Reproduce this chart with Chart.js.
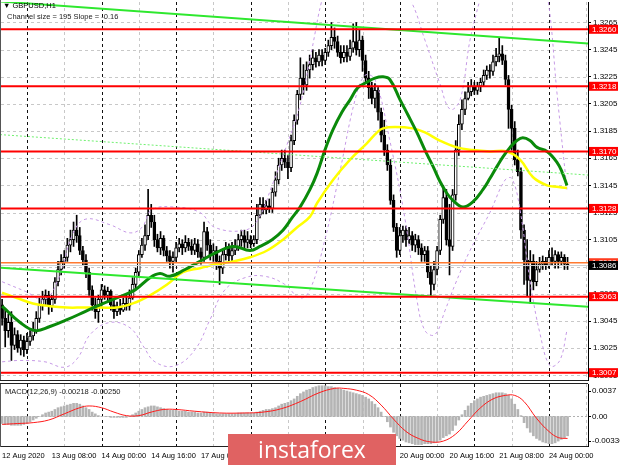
<!DOCTYPE html>
<html><head><meta charset="utf-8">
<script src="https://cdn.jsdelivr.net/npm/chart.js@4.4.1/dist/chart.umd.min.js"></script>
<style>
html,body{margin:0;padding:0;background:#fff;width:620px;height:465px;overflow:hidden}
#wrap{position:relative;width:620px;height:465px}
canvas{position:absolute;left:0}
#main{top:0}
#macd{top:383px}
.t{position:absolute;white-space:nowrap;font-family:'Liberation Sans',Arial,sans-serif;font-size:7.5px;line-height:8px;color:#000}
#logo{position:absolute;left:228px;top:434px;width:168px;height:31px;background:#e06262;color:#fff;font-family:'Open Sans','Liberation Sans',sans-serif;font-size:23px;line-height:30px;text-align:center}
</style></head>
<body><div id="wrap">
<canvas id="main" width="620" height="383"></canvas>
<canvas id="macd" width="620" height="82"></canvas>
<div class="t" style="left:3px;top:2px">▼ GBPUSD,H1</div>
<div class="t" style="left:7px;top:13px;color:#222">Channel size = 195 Slope = -0.16</div>
<div class="t" style="left:5px;top:388px;color:#222">MACD(12,26,9) -0.00218 -0.00250</div>
<div id="logo">instaforex</div>
</div>
<script>
// ---------- data (H1 bars, index 0 = 12 Aug 16:00) ----------
const opens=[1.3057,1.3047,1.3038,1.3044,1.3027,1.3035,1.3025,1.3031,1.3024,1.3030,
1.3034,1.3038,1.3047,1.3057,1.3061,1.3064,1.3056,1.3061,1.3074,1.3083,
1.3089,1.3092,1.3101,1.3105,1.3112,1.3108,1.3097,1.3090,1.3081,1.3068,
1.3057,1.3052,1.3061,1.3068,1.3064,1.3067,1.3057,1.3052,1.3055,1.3053,
1.3058,1.3056,1.3062,1.3072,1.3081,1.3094,1.3101,1.3108,1.3123,1.3118,
1.3105,1.3099,1.3106,1.3097,1.3093,1.3089,1.3092,1.3099,1.3102,1.3099,
1.3103,1.3100,1.3097,1.3102,1.3096,1.3092,1.3111,1.3101,1.3094,1.3097,
1.3089,1.3084,1.3094,1.3099,1.3093,1.3097,1.3100,1.3105,1.3108,1.3103,
1.3105,1.3102,1.3105,1.3123,1.3131,1.3127,1.3130,1.3128,1.3140,1.3149,
1.3160,1.3165,1.3162,1.3158,1.3178,1.3193,1.3212,1.3224,1.3219,1.3230,
1.3234,1.3239,1.3236,1.3241,1.3237,1.3243,1.3248,1.3254,1.3251,1.3243,
1.3239,1.3243,1.3240,1.3246,1.3251,1.3245,1.3252,1.3237,1.3224,1.3217,
1.3209,1.3215,1.3199,1.3182,1.3171,1.3160,1.3134,1.3114,1.3097,1.3108,
1.3112,1.3105,1.3108,1.3101,1.3105,1.3099,1.3094,1.3097,1.3081,1.3072,
1.3083,1.3097,1.3120,1.3136,1.3105,1.3100,1.3138,1.3171,1.3190,1.3201,
1.3209,1.3214,1.3218,1.3215,1.3218,1.3221,1.3226,1.3230,1.3229,1.3236,
1.3240,1.3242,1.3237,1.3223,1.3201,1.3187,1.3164,1.3155,1.3112,1.3090,
1.3075,1.3089,1.3074,1.3083,1.3087,1.3089,1.3086,1.3092,1.3089,1.3094,
1.3089,1.3092,1.3087];
const highs=[1.3061,1.3053,1.3050,1.3052,1.3040,1.3038,1.3035,1.3034,1.3036,1.3038,
1.3044,1.3052,1.3062,1.3067,1.3068,1.3067,1.3064,1.3077,1.3089,1.3094,
1.3097,1.3106,1.3112,1.3118,1.3123,1.3114,1.3100,1.3094,1.3084,1.3071,
1.3062,1.3064,1.3072,1.3071,1.3070,1.3068,1.3061,1.3059,1.3061,1.3062,
1.3064,1.3068,1.3077,1.3084,1.3097,1.3106,1.3116,1.3142,1.3131,1.3123,
1.3109,1.3111,1.3108,1.3100,1.3097,1.3096,1.3103,1.3106,1.3105,1.3108,
1.3106,1.3105,1.3106,1.3105,1.3099,1.3118,1.3114,1.3105,1.3102,1.3100,
1.3093,1.3097,1.3103,1.3102,1.3103,1.3105,1.3109,1.3112,1.3112,1.3111,
1.3108,1.3108,1.3131,1.3136,1.3136,1.3134,1.3135,1.3143,1.3155,1.3165,
1.3171,1.3171,1.3167,1.3182,1.3197,1.3215,1.3239,1.3234,1.3236,1.3241,
1.3245,1.3243,1.3245,1.3245,1.3246,1.3252,1.3265,1.3261,1.3255,1.3248,
1.3248,1.3248,1.3252,1.3264,1.3265,1.3260,1.3255,1.3241,1.3229,1.3221,
1.3220,1.3218,1.3202,1.3193,1.3175,1.3164,1.3138,1.3117,1.3114,1.3115,
1.3115,1.3114,1.3111,1.3109,1.3108,1.3102,1.3100,1.3100,1.3086,1.3089,
1.3100,1.3123,1.3145,1.3142,1.3131,1.3142,1.3178,1.3197,1.3208,1.3214,
1.3221,1.3223,1.3221,1.3221,1.3224,1.3230,1.3233,1.3234,1.3241,1.3246,
1.3254,1.3248,1.3241,1.3226,1.3204,1.3192,1.3171,1.3158,1.3116,1.3105,
1.3097,1.3094,1.3089,1.3092,1.3093,1.3092,1.3097,1.3099,1.3097,1.3096,
1.3096,1.3094,1.3092];
const lows=[1.3042,1.3026,1.3033,1.3016,1.3024,1.3022,1.3020,1.3019,1.3021,1.3027,
1.3031,1.3036,1.3044,1.3053,1.3057,1.3050,1.3052,1.3058,1.3071,1.3079,
1.3084,1.3089,1.3096,1.3100,1.3103,1.3094,1.3086,1.3077,1.3064,1.3053,
1.3047,1.3044,1.3056,1.3061,1.3059,1.3053,1.3047,1.3049,1.3050,1.3052,
1.3053,1.3053,1.3061,1.3068,1.3078,1.3092,1.3097,1.3105,1.3114,1.3100,
1.3096,1.3094,1.3093,1.3089,1.3084,1.3081,1.3089,1.3096,1.3094,1.3096,
1.3097,1.3094,1.3094,1.3092,1.3087,1.3089,1.3097,1.3090,1.3089,1.3083,
1.3072,1.3080,1.3090,1.3089,1.3089,1.3094,1.3097,1.3100,1.3099,1.3099,
1.3099,1.3100,1.3102,1.3121,1.3124,1.3124,1.3125,1.3125,1.3137,1.3146,
1.3156,1.3158,1.3150,1.3155,1.3175,1.3190,1.3208,1.3212,1.3215,1.3224,
1.3230,1.3232,1.3233,1.3233,1.3234,1.3240,1.3245,1.3246,1.3240,1.3235,
1.3236,1.3236,1.3237,1.3243,1.3241,1.3240,1.3229,1.3221,1.3209,1.3205,
1.3202,1.3193,1.3177,1.3167,1.3156,1.3131,1.3111,1.3092,1.3094,1.3103,
1.3100,1.3102,1.3097,1.3096,1.3094,1.3089,1.3089,1.3077,1.3064,1.3068,
1.3079,1.3094,1.3117,1.3101,1.3079,1.3097,1.3134,1.3167,1.3186,1.3197,
1.3208,1.3211,1.3212,1.3212,1.3214,1.3218,1.3223,1.3224,1.3226,1.3233,
1.3236,1.3234,1.3219,1.3187,1.3171,1.3160,1.3152,1.3106,1.3072,1.3063,
1.3058,1.3068,1.3071,1.3081,1.3083,1.3083,1.3084,1.3086,1.3084,1.3084,
1.3086,1.3083,1.3083];
const closes=[1.3047,1.3038,1.3044,1.3027,1.3035,1.3025,1.3031,1.3024,1.3030,1.3034,
1.3038,1.3047,1.3057,1.3061,1.3064,1.3056,1.3061,1.3074,1.3083,1.3089,
1.3092,1.3101,1.3105,1.3112,1.3108,1.3097,1.3090,1.3081,1.3068,1.3057,
1.3052,1.3061,1.3068,1.3064,1.3067,1.3057,1.3052,1.3055,1.3053,1.3058,
1.3056,1.3062,1.3072,1.3081,1.3094,1.3101,1.3108,1.3123,1.3118,1.3105,
1.3099,1.3106,1.3097,1.3093,1.3089,1.3092,1.3099,1.3102,1.3099,1.3103,
1.3100,1.3097,1.3102,1.3096,1.3092,1.3111,1.3101,1.3094,1.3097,1.3089,
1.3084,1.3094,1.3099,1.3093,1.3097,1.3100,1.3105,1.3108,1.3103,1.3105,
1.3102,1.3105,1.3123,1.3131,1.3127,1.3130,1.3128,1.3140,1.3149,1.3160,
1.3165,1.3162,1.3158,1.3178,1.3193,1.3212,1.3224,1.3219,1.3230,1.3234,
1.3239,1.3236,1.3241,1.3237,1.3243,1.3248,1.3254,1.3251,1.3243,1.3239,
1.3243,1.3240,1.3246,1.3251,1.3245,1.3252,1.3237,1.3224,1.3217,1.3209,
1.3215,1.3199,1.3182,1.3171,1.3160,1.3134,1.3114,1.3097,1.3108,1.3112,
1.3105,1.3108,1.3101,1.3105,1.3099,1.3094,1.3097,1.3081,1.3072,1.3083,
1.3097,1.3120,1.3136,1.3105,1.3100,1.3138,1.3171,1.3190,1.3201,1.3209,
1.3214,1.3218,1.3215,1.3218,1.3221,1.3226,1.3230,1.3229,1.3236,1.3240,
1.3242,1.3237,1.3223,1.3201,1.3187,1.3164,1.3155,1.3112,1.3090,1.3075,
1.3089,1.3074,1.3083,1.3087,1.3089,1.3086,1.3092,1.3089,1.3094,1.3089,
1.3092,1.3087,1.3086];

// moving averages (read at sample bars)
const greenMaIdx=[0,5.8,10.6,15.4,20.9,26.7,31.5,37.9,42.8,47.6,50.8,54.0,58.9,63.7,68.5,74.3,79.8,83.0,86.9,90.4,93.3,95.9,99.1,101.4,103.9,106.5,109.4,112.0,114.5,117.4,120.0,122.6,124.8,128.1,130.6,133.5,136.1,138.7,140.9,143.2,145.1,148.3,151.6,154.8,157.0,159.3,161.2,163.5,165.7,167.6,169.9,172.2,175.4,178.6,180.2,181.8];
const greenMaVal=[1.3056,1.3044,1.3038,1.3041,1.3046,1.3052,1.3057,1.3063,1.3068,1.3077,1.3080,1.3078,1.3083,1.3089,1.3095,1.3100,1.3097,1.3100,1.3105,1.3112,1.3121,1.3129,1.3142,1.3154,1.3171,1.3186,1.3199,1.3208,1.3217,1.3221,1.3224,1.3225,1.3223,1.3208,1.3197,1.3184,1.3171,1.3159,1.3148,1.3139,1.3134,1.3129,1.3133,1.3142,1.3150,1.3159,1.3166,1.3173,1.3178,1.3180,1.3178,1.3173,1.3170,1.3162,1.3155,1.3145];
const yellowMaIdx=[0,4.8,9.9,15.4,20.9,26.0,31.5,37.0,42.1,47.6,53.1,58.2,63.7,69.2,74.3,79.8,85.3,90.4,94.9,99.1,101.4,106.5,112.0,117.4,120.7,122.6,126.5,132.2,136.1,140.9,146.4,151.6,157.0,162.5,166.7,170.9,175.4,178.6,181.8];
const yellowMaVal=[1.3066,1.3062,1.3058,1.3056,1.3055,1.3055,1.3055,1.3055,1.3058,1.3064,1.3072,1.3081,1.3084,1.3087,1.3089,1.3092,1.3097,1.3105,1.3114,1.3122,1.3132,1.3149,1.3164,1.3176,1.3184,1.3187,1.3188,1.3187,1.3184,1.3178,1.3173,1.3171,1.3170,1.3170,1.3164,1.3151,1.3145,1.3144,1.3143];
// bands (purple dashed)
const bandUpIdx=[0,7.4,13.8,18.6,22.5,26.7,34.7,41.2,45.0,48.2,55.6,63.7,68.5,78.2,82.4,86.9,91.7,95.9,99.7,103.0,107.1,112.0,116.8,121.6,126.5,131.3,136.1,140.9,144.2,147.4,150.6,153.8,157.0,163.5,169.9,173.2,175.7,178.6,181.8];
const bandUpVal=[1.3074,1.3067,1.3061,1.3079,1.3108,1.3120,1.3116,1.3110,1.3114,1.3127,1.3129,1.3125,1.3114,1.3112,1.3120,1.3145,1.3175,1.3204,1.3245,1.3282,1.3311,1.3318,1.3311,1.3304,1.3293,1.3282,1.3252,1.3220,1.3201,1.3208,1.3252,1.3282,1.3311,1.3326,1.3318,1.3300,1.3282,1.3213,1.3142];
const bandLowIdx=[0,5.8,13.8,20.2,24.4,28.3,34.7,41.2,45.3,49.2,55.6,62.1,66.9,71.7,78.2,84.6,91.0,95.9,99.1,103.9,108.8,113.6,116.8,120.0,124.8,129.7,133.5,136.1,139.3,142.6,145.8,150.6,157.0,161.9,164.1,166.7,169.9,173.2,176.4,179.5,181.8];
const bandLowVal=[1.3015,1.3016,1.3015,1.3011,1.3018,1.3035,1.3044,1.3040,1.3027,1.3015,1.3012,1.3024,1.3046,1.3068,1.3077,1.3078,1.3072,1.3062,1.3068,1.3105,1.3156,1.3208,1.3226,1.3223,1.3178,1.3120,1.3061,1.3038,1.3035,1.3053,1.3072,1.3097,1.3125,1.3149,1.3150,1.3127,1.3075,1.3035,1.3012,1.3016,1.3038];
// regression channel end points
const channelIdx=[-0.68,188.6];
const channelTop=[1.32805,1.32496];
const channelMid=[1.31824,1.31526];
const channelBot=[1.30844,1.30556];
// horizontal levels
const levels=[1.3260,1.3218,1.3170,1.3128,1.3063,1.3007];
const orangeLevel=1.3088;
const currentPrice=1.3086;
const priceTicks=[1.3005,1.3025,1.3045,1.3065,1.3085,1.3105,1.3125,1.3145,1.3165,1.3185,1.3205,1.3225,1.3245,1.3265];
// time axis
const timeTickIdx=[0,16,32,48,64,80,96,112,128,144,160,176];
const timeTickLabels=['12 Aug 2020','13 Aug 08:00','14 Aug 00:00','14 Aug 16:00','17 Aug 08:00','18 Aug 00:00','18 Aug 16:00','19 Aug 08:00','20 Aug 00:00','20 Aug 16:00','21 Aug 08:00','24 Aug 00:00'];
const daySeparators=[8,32,56,80,104,128,152,176];
const halfDayLines=[20,44,68,92,116,140,164,188];
// MACD
const macdHist=[-0.0008,-0.0009,-0.0009,-0.0010,-0.0010,-0.0010,-0.0010,-0.0009,-0.0008,
-0.0006,-0.0004,-0.0002,0.0000,
0.0002,0.0004,0.0005,0.0006,0.0008,0.0010,0.0011,0.0012,0.0013,0.0014,0.0015,0.0015,
0.0014,0.0012,0.0010,0.0008,0.0005,0.0003,0.0001,0.0000,0.0000,
0.0000,-0.0001,-0.0001,-0.0001,-0.0001,-0.0001,-0.0001,0.0000,0.0002,0.0004,
0.0006,0.0008,0.0010,0.0011,0.0012,0.0012,0.0011,0.0010,0.0009,0.0008,0.0007,0.0007,
0.0007,0.0006,0.0006,0.0006,0.0005,0.0005,0.0005,0.0004,0.0004,0.0005,0.0005,0.0004,0.0004,0.0003,0.0003,0.0003,0.0003,0.0003,0.0003,0.0003,0.0004,0.0004,0.0004,0.0004,0.0004,0.0004,
0.0005,0.0006,0.0007,0.0008,0.0008,0.0009,0.0010,0.0012,0.0014,0.0015,0.0016,0.0018,0.0020,0.0023,0.0026,0.0028,0.0030,0.0031,0.0033,0.0034,0.0035,0.0035,0.0035,0.0034,0.0034,
0.0033,0.0032,0.0031,0.0030,0.0029,0.0028,0.0027,0.0026,0.0025,0.0024,0.0022,0.0020,0.0017,0.0014,0.0010,0.0005,
0.0000,-0.0006,-0.0012,-0.0018,-0.0022,-0.0025,-0.0027,-0.0029,-0.0030,-0.0031,-0.0032,-0.0032,-0.0032,-0.0031,-0.0031,-0.0031,-0.0030,
-0.0029,-0.0027,-0.0024,-0.0022,-0.0020,-0.0016,-0.0010,-0.0004,
0.0002,0.0007,0.0012,0.0015,0.0018,0.0020,0.0022,0.0023,0.0024,0.0025,0.0026,0.0027,0.0027,0.0027,0.0026,0.0024,0.0020,0.0014,0.0008,
0.0001,-0.0007,-0.0013,-0.0018,-0.0022,-0.0025,-0.0027,-0.0029,-0.0030,-0.0031,-0.0031,-0.0030,-0.0028,-0.0026,-0.0024,-0.0022];
const signalIdx=[0,5,10,15,20,25,28,32,36,40,44,48,52,56,62,70,78,84,90,96,102,107,110,114,118,122,126,130,134,138,142,146,150,154,158,162,165,168,172,176,179,182];
const signalVal=[-0.0009,-0.0008,-0.0007,-0.0004,0.0003,0.0010,0.0012,0.0010,0.0005,0.0001,0.0001,0.0005,0.0008,0.0008,0.0006,0.0004,0.0004,0.0005,0.0009,0.0017,0.0027,0.0032,0.0032,0.0030,0.0025,0.0013,-0.0003,-0.0017,-0.0025,-0.0029,-0.0028,-0.0020,-0.0005,0.0010,0.0020,0.0024,0.0024,0.0017,-0.0002,-0.0017,-0.0024,-0.0025];
const macdAxisVals=[0.0037,0,-0.00336];
const macdAxisText=['0.0037','0.00','-0.00336'];

// ---------- scale ranges ----------
const X_MIN=-0.354, X_MAX=188.58;
const P_MIN=1.30016, P_MAX=1.32801;
const M_MIN=-0.00336, M_MAX=0.0037;
const FONT="'Liberation Sans', Arial, sans-serif";

const pts=(xs,ys)=>xs.map((x,i)=>({x:x,y:ys[i]}));

function clipArea(ctx,a){ctx.beginPath();ctx.rect(a.left,a.top,a.right-a.left,a.bottom-a.top);ctx.clip();}
function hline(ctx,x1,x2,y){ctx.beginPath();ctx.moveTo(x1,y);ctx.lineTo(x2,y);ctx.stroke();}
function vline(ctx,x,y1,y2){ctx.beginPath();ctx.moveTo(x,y1);ctx.lineTo(x,y2);ctx.stroke();}
function drawVGrid(ctx,a,xs){
  ctx.lineWidth=1;ctx.setLineDash([3,3]);
  halfDayLines.forEach(i=>{const px=Math.round(xs.getPixelForValue(i))+0.5;ctx.strokeStyle='#c8c8c8';vline(ctx,px,a.top,a.bottom);});
  daySeparators.forEach(i=>{const px=Math.round(xs.getPixelForValue(i))+0.5;ctx.strokeStyle='#111';vline(ctx,px,a.top,a.bottom);});
}
const noPadV=s=>{s.paddingTop=0;s.paddingBottom=0;};
const noPadH=s=>{s.paddingLeft=0;s.paddingRight=0;};

const mainDeco={
  id:'mainDeco',
  beforeDatasetsDraw(chart){
    const {ctx,chartArea:a,scales:{x,y}}=chart;
    ctx.save();clipArea(ctx,a);
    ctx.lineWidth=1;ctx.setLineDash([3,3]);ctx.strokeStyle='#c8c8c8';
    priceTicks.forEach(v=>{const py=Math.round(y.getPixelForValue(v))+0.5;hline(ctx,a.left,a.right,py);});
    drawVGrid(ctx,a,x);
    ctx.restore();
  },
  afterDatasetsDraw(chart){
    const {ctx,chartArea:a,scales:{y}}=chart;
    ctx.save();clipArea(ctx,a);ctx.setLineDash([]);
    ctx.strokeStyle='#d0d0d0';ctx.lineWidth=1;hline(ctx,a.left,a.right,Math.round(y.getPixelForValue(currentPrice))+0.5);
    ctx.strokeStyle='#ff7a30';ctx.lineWidth=1.5;hline(ctx,a.left,a.right,y.getPixelForValue(orangeLevel));
    ctx.strokeStyle='#ff0000';ctx.lineWidth=2;
    levels.forEach(v=>hline(ctx,a.left,a.right,y.getPixelForValue(v)));
    ctx.restore();
  },
  afterDraw(chart){
    const {ctx,chartArea:a,scales:{y}}=chart;
    ctx.save();
    ctx.font='8px '+FONT;ctx.textBaseline='middle';ctx.textAlign='left';
    const lab=(v,bg,txt)=>{const py=y.getPixelForValue(v);ctx.fillStyle=bg;ctx.fillRect(a.right+1,py-4.5,29,9);ctx.fillStyle='#fff';ctx.fillText(txt,a.right+4,py+0.5);};
    levels.forEach(v=>lab(v,'#ff0000',v.toFixed(4)));
    lab(orangeLevel,'#ff3b1f',orangeLevel.toFixed(4));
    lab(currentPrice,'#000',currentPrice.toFixed(4));
    ctx.strokeStyle='#555';ctx.lineWidth=1;ctx.setLineDash([]);
    vline(ctx,0.5,0,a.bottom+1);
    ctx.strokeStyle='#222';hline(ctx,0,a.right,a.bottom+0.5);
    ctx.restore();
  }
};

const macdDeco={
  id:'macdDeco',
  beforeDatasetsDraw(chart){
    const {ctx,chartArea:a,scales:{x,y}}=chart;
    ctx.save();clipArea(ctx,a);
    drawVGrid(ctx,a,x);
    ctx.strokeStyle='#b0b0b0';ctx.setLineDash([2,2]);
    hline(ctx,a.left,a.right,Math.round(y.getPixelForValue(0))+0.5);
    ctx.restore();
  },
  afterDraw(chart){
    const {ctx,chartArea:a,scales:{y}}=chart;
    ctx.save();
    ctx.font='8px '+FONT;ctx.textBaseline='middle';ctx.textAlign='left';ctx.fillStyle='#000';
    macdAxisVals.forEach((v,i)=>{
      let py=y.getPixelForValue(v);
      if(i===0)py=a.top+7;
      if(i===macdAxisVals.length-1)py=a.bottom-5;
      ctx.fillText(macdAxisText[i],a.right+4,py);
      ctx.strokeStyle='#000';ctx.lineWidth=1;hline(ctx,a.right,a.right+3,Math.round(py)+0.5);
    });
    ctx.strokeStyle='#222';ctx.lineWidth=1;
    hline(ctx,0,a.right,a.top-0.5);
    hline(ctx,0,a.right,a.bottom+0.5);
    ctx.strokeStyle='#555';vline(ctx,0.5,a.top,a.bottom+1);
    ctx.restore();
  }
};

const common={responsive:false,animation:false,devicePixelRatio:1,events:[],
  plugins:{legend:{display:false},tooltip:{enabled:false}}};

const lineDs=(data,color,width,extra)=>Object.assign({type:'line',data:data,borderColor:color,borderWidth:width,pointRadius:0,fill:false,tension:0.4},extra||{});

new Chart(document.getElementById('main'),{
  type:'bar',
  data:{datasets:[
    lineDs(pts(channelIdx,channelTop),'#2ee82e',2,{tension:0,order:1}),
    lineDs(pts(channelIdx,channelBot),'#2ee82e',2,{tension:0,order:1}),
    lineDs(pts(channelIdx,channelMid),'#6ef06e',1,{tension:0,borderDash:[2,2],order:1}),
    lineDs(pts(greenMaIdx,greenMaVal),'#0a8a0a',3,{order:2}),
    lineDs(pts(yellowMaIdx,yellowMaVal),'#ffff00',2.5,{order:3}),
    lineDs(pts(bandUpIdx,bandUpVal),'#c69ae6',1,{borderDash:[3,3],order:4}),
    lineDs(pts(bandLowIdx,bandLowVal),'#c69ae6',1,{borderDash:[3,3],order:4}),
    {type:'bar',data:opens.map((o,i)=>({x:i,y:[o,closes[i]]})),barThickness:3,minBarLength:1,grouped:false,
      backgroundColor:c=>closes[c.dataIndex]>=opens[c.dataIndex]?'#ffffff':'#000000',
      borderColor:'#000',borderWidth:1,borderSkipped:false,order:8},
    {type:'bar',data:highs.map((h,i)=>({x:i,y:[lows[i],h]})),barThickness:1,grouped:false,backgroundColor:'#000',order:9}
  ]},
  options:Object.assign({},common,{
    layout:{padding:{left:1,top:2,right:0,bottom:3}},
    scales:{
      x:{type:'linear',min:X_MIN,max:X_MAX,offset:false,display:false,afterFit:noPadH},
      y:{type:'linear',position:'right',min:P_MIN,max:P_MAX,
        afterBuildTicks:s=>{s.ticks=priceTicks.map(v=>({value:v}));},
        afterFit:s=>{s.width=32;noPadV(s);},
        ticks:{autoSkip:false,padding:2,color:'#000',font:{family:FONT,size:8},callback:v=>Number(v).toFixed(4)},
        grid:{drawOnChartArea:false,drawTicks:true,tickLength:3,color:'#000'},
        border:{display:true,color:'#000'}}
    }
  }),
  plugins:[mainDeco]
});

new Chart(document.getElementById('macd'),{
  type:'bar',
  data:{datasets:[
    lineDs(pts(signalIdx,signalVal),'#ff1a1a',1,{order:1}),
    {type:'bar',data:macdHist.map((v,i)=>({x:i,y:v})),barThickness:2,grouped:false,backgroundColor:'#b4b4b4',order:2}
  ]},
  options:Object.assign({},common,{
    layout:{padding:{left:1,top:1,right:0,bottom:0}},
    scales:{
      x:{type:'linear',min:X_MIN,max:X_MAX,offset:false,
        afterBuildTicks:s=>{s.ticks=timeTickIdx.map(v=>({value:v}));},
        afterFit:s=>{s.height=19;noPadH(s);},
        grid:{display:false,drawTicks:false},border:{display:false},
        ticks:{align:'start',maxRotation:0,minRotation:0,autoSkip:false,padding:5,color:'#000',font:{family:FONT,size:7.5},
          callback:(v,i)=>timeTickLabels[i]}},
      y:{type:'linear',position:'right',min:M_MIN,max:M_MAX,
        afterFit:s=>{s.width=32;noPadV(s);},
        ticks:{display:false},grid:{display:false},border:{display:true,color:'#000'}}
    }
  }),
  plugins:[macdDeco]
});
</script>
</body></html>
